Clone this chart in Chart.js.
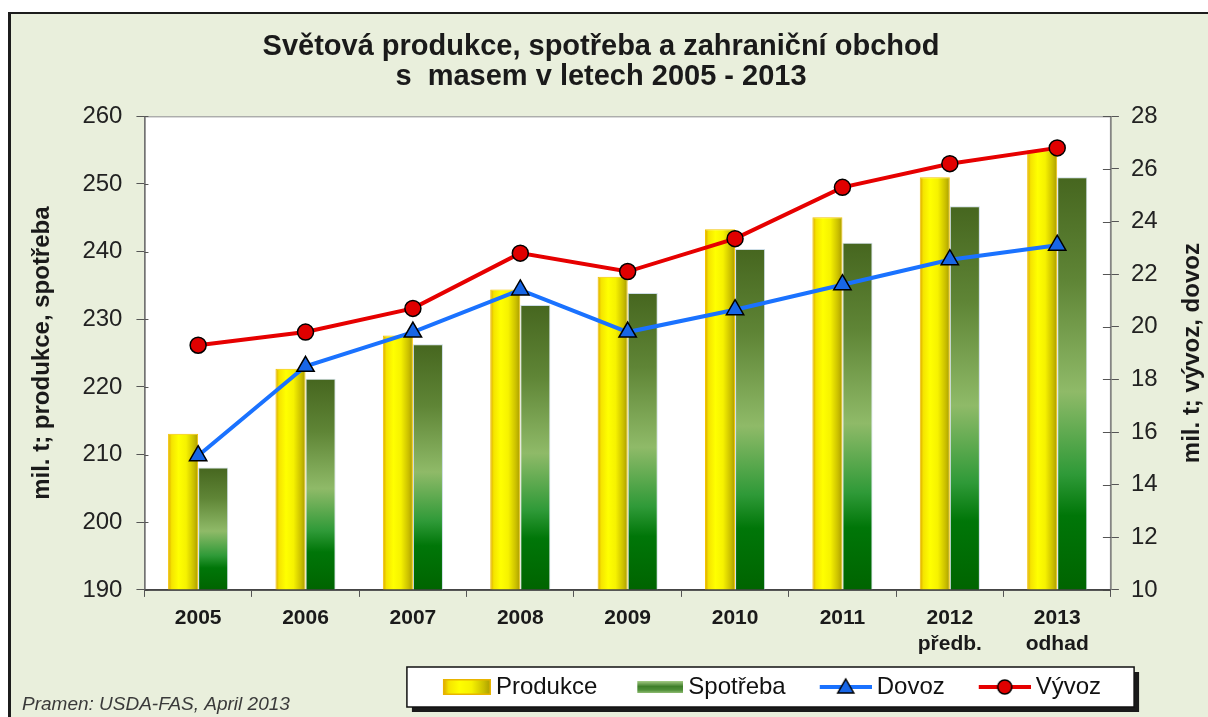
<!DOCTYPE html>
<html>
<head>
<meta charset="utf-8">
<script src="https://cdn.jsdelivr.net/npm/chart.js@4.4.1/dist/chart.umd.min.js"></script>
<style>
html, body { margin: 0; padding: 0; background: #fff; }
#wrap { width: 1208px; height: 717px; }
</style>
</head>
<body>
<div id="wrap"><canvas id="meatChart" width="1208" height="717"></canvas></div>
<script>
// data
var years = ['2005', '2006', '2007', '2008', '2009', '2010', '2011', ['2012', 'předb.'], ['2013', 'odhad']];
var produkce = [213.1, 222.7, 227.6, 234.4, 236.3, 243.3, 245.1, 251.0, 255.0];
var spotreba = [208.1, 221.2, 226.3, 232.1, 233.9, 240.4, 241.3, 246.7, 251.0];
var dovoz = [15.1, 18.5, 19.8, 21.4, 19.8, 20.65, 21.6, 22.55, 23.1];
var vyvoz = [19.3, 19.8, 20.7, 22.8, 22.1, 23.35, 25.3, 26.2, 26.8];
var leftAxis = { min: 190, max: 260, step: 10 };
var rightAxis = { min: 10, max: 28, step: 2 };

var titleLines = ['Světová produkce, spotřeba a zahraniční obchod', 's  masem v letech 2005 - 2013'];
var leftTitle = 'mil. t; produkce, spotřeba';
var rightTitle = 'mil. t; vývoz, dovoz';
var sourceNote = 'Pramen: USDA-FAS, April 2013';

var FONT = "'Liberation Sans', Arial, Helvetica, sans-serif";
var catPct = 0.56;

// legend icon geometry
var legW = 69, legImgW = legW + 14, legLead = legW + 7 - 48;

function barBox(c, side) {
    var chart = c.chart, xs = chart.scales.x, ys = chart.scales.y;
    if (!xs || !ys || c.dataIndex === undefined || !isFinite(xs.width)) return null;
    var barW = xs.width / years.length * catPct / 2;
    var cx = xs.getPixelForValue(c.dataIndex);
    var left = side === 0 ? cx - barW : cx;
    return { left: left, right: left + barW, top: ys.getPixelForValue(c.raw), bottom: ys.getPixelForValue(ys.min) };
}

function yellowStops(g) {
    g.addColorStop(0, '#d9a300');
    g.addColorStop(0.12, '#f5e400');
    g.addColorStop(0.35, '#ffff00');
    g.addColorStop(0.6, '#f6f200');
    g.addColorStop(0.85, '#cbc000');
    g.addColorStop(1, '#a99c00');
    return g;
}

function yellowFill(c) {
    var b = barBox(c, 0);
    if (!b) return '#f0e800';
    return yellowStops(c.chart.ctx.createLinearGradient(b.left, 0, b.right, 0));
}

function greenFill(c) {
    var b = barBox(c, 1);
    if (!b) return '#5f8f3a';
    var g = c.chart.ctx.createLinearGradient(0, b.top, 0, b.bottom);
    g.addColorStop(0, '#46661f');
    g.addColorStop(0.25, '#5f8536');
    g.addColorStop(0.52, '#8fba68');
    g.addColorStop(0.72, '#2f9a38');
    g.addColorStop(0.82, '#007608');
    g.addColorStop(1, '#006400');
    return g;
}

function makeIcon(kind) {
    var cv = document.createElement('canvas');
    cv.width = legImgW; cv.height = 22;
    var x = cv.getContext('2d');
    var cy = 11;
    if (kind === 'yellow') {
        var l = legImgW - 48;
        x.fillStyle = yellowStops(x.createLinearGradient(l, 0, legImgW, 0));
        x.fillRect(l, cy - 8, 48, 16);
        x.strokeStyle = '#e8b400'; x.lineWidth = 1.5;
        x.strokeRect(l + 0.75, cy - 7.25, 46.5, 14.5);
    } else if (kind === 'green') {
        var l2 = legImgW - 46;
        var g = x.createLinearGradient(0, cy - 6, 0, cy + 6);
        g.addColorStop(0, '#a6cc86'); g.addColorStop(0.45, '#3f7f2a'); g.addColorStop(0.75, '#4f8f38'); g.addColorStop(1, '#8fbc72');
        x.fillStyle = g;
        x.fillRect(l2, cy - 6, 46, 12);
    } else {
        var l3 = legImgW - 52;
        x.strokeStyle = kind === 'blue' ? '#1a72ff' : '#e60000';
        x.lineWidth = 4;
        x.beginPath(); x.moveTo(l3, cy); x.lineTo(legImgW, cy); x.stroke();
        var mx = l3 + 26;
        x.lineWidth = 1.5; x.strokeStyle = '#000';
        x.beginPath();
        if (kind === 'blue') {
            x.fillStyle = '#1866e6';
            x.moveTo(mx, cy - 8); x.lineTo(mx + 8, cy + 6); x.lineTo(mx - 8, cy + 6); x.closePath();
        } else {
            x.fillStyle = '#e00000';
            x.arc(mx, cy, 7, 0, Math.PI * 2);
        }
        x.fill(); x.stroke();
    }
    return cv;
}
var legendIcons = [makeIcon('yellow'), makeIcon('green'), makeIcon('blue'), makeIcon('red')];

var framePlugin = {
    id: 'frame',
    afterLayout: function(chart) {
        var lg = chart.legend;
        if (!lg || !lg.lineWidths) return;
        var pad = lg.options.labels.padding;
        var lineW = lg.lineWidths[0];
        var span = lineW - pad - legLead;
        var x0 = 772 - legLead - span / 2;
        var w = lg.right - lg.left;
        lg.left = x0 - pad;
        lg.right = lg.left + w;
        lg._frameL = x0 + legLead - 36;
        lg._frameR = x0 + lineW - pad + 33;
    },
    beforeDraw: function(chart) {
        var c = chart.ctx, a = chart.chartArea, lg = chart.legend;
        c.save();
        c.fillStyle = '#ffffff';
        c.fillRect(0, 0, chart.width, chart.height);
        c.fillStyle = '#e9efdc';
        c.fillRect(10, 14, chart.width - 10, chart.height - 14);
        c.fillStyle = '#1c1c1c';
        c.fillRect(8, 12, 3, chart.height - 12);
        c.fillRect(8, 12, chart.width - 8, 2);
        c.fillStyle = '#ffffff';
        c.fillRect(a.left, a.top, a.right - a.left, a.bottom - a.top);
        if (lg && lg._frameL !== undefined) {
            var top = lg.top + 2, h = 40;
            c.fillStyle = '#1a1a1a';
            c.fillRect(lg._frameL + 5, top + 5, lg._frameR - lg._frameL, h);
            c.fillStyle = '#ffffff';
            c.fillRect(lg._frameL, top, lg._frameR - lg._frameL, h);
            c.strokeStyle = '#111';
            c.lineWidth = 1.5;
            c.strokeRect(lg._frameL, top, lg._frameR - lg._frameL, h);
        }
        c.restore();
    },
    beforeDatasetsDraw: function(chart) {
        var c = chart.ctx, a = chart.chartArea;
        c.save();
        c.strokeStyle = '#8a8a8a';
        c.lineWidth = 1;
        c.strokeRect(a.left + 0.5, a.top + 0.5, a.right - a.left - 1, a.bottom - a.top);
        c.strokeStyle = '#555';
        c.beginPath();
        chart.scales.y.ticks.forEach(function(t) {
            var py = Math.round(chart.scales.y.getPixelForValue(t.value)) + 0.5;
            c.moveTo(a.left, py); c.lineTo(a.left + 4, py);
        });
        chart.scales.y1.ticks.forEach(function(t) {
            var py = Math.round(chart.scales.y1.getPixelForValue(t.value)) + 0.5;
            c.moveTo(a.right - 8, py); c.lineTo(a.right, py);
        });
        c.stroke();
        c.restore();
    },
    afterDatasetsDraw: function(chart) {
        var c = chart.ctx, a = chart.chartArea;
        c.save();
        c.strokeStyle = '#444';
        c.lineWidth = 1.5;
        c.beginPath(); c.moveTo(a.left, a.bottom); c.lineTo(a.right, a.bottom); c.stroke();
        c.restore();
    },
    afterDraw: function(chart) {
        var c = chart.ctx, a = chart.chartArea, s = chart.scales.y1;
        c.save();
        c.fillStyle = '#3a3a3a';
        c.font = 'italic 19px ' + FONT;
        c.textBaseline = 'middle';
        c.textAlign = 'left';
        c.fillText(sourceNote, 22, 705);
        // right axis title reads bottom-to-top like the left one
        c.translate(s.right + 4 - 13.2, (a.top + a.bottom) / 2);
        c.rotate(-Math.PI / 2);
        c.fillStyle = '#1a1a1a';
        c.font = 'bold 24px ' + FONT;
        c.textAlign = 'center';
        c.fillText(rightTitle, 0, 0);
        c.restore();
    }
};

var chart = new Chart(document.getElementById('meatChart').getContext('2d'), {
    type: 'bar',
    data: {
        labels: years,
        datasets: [{
            type: 'bar',
            label: 'Produkce',
            data: produkce,
            yAxisID: 'y',
            order: 2,
            backgroundColor: yellowFill,
            borderColor: '#f3c300',
            borderWidth: 1,
            categoryPercentage: catPct,
            barPercentage: 1.0
        }, {
            type: 'bar',
            label: 'Spotřeba',
            data: spotreba,
            yAxisID: 'y',
            order: 2,
            backgroundColor: greenFill,
            borderColor: '#cddde6',
            borderWidth: 1,
            categoryPercentage: catPct,
            barPercentage: 1.0
        }, {
            type: 'line',
            label: 'Dovoz',
            data: dovoz,
            yAxisID: 'y1',
            order: 1,
            borderColor: '#1a72ff',
            borderWidth: 4,
            tension: 0,
            pointStyle: 'triangle',
            pointRadius: 10,
            pointBackgroundColor: '#1866e6',
            pointBorderColor: '#000',
            pointBorderWidth: 1.5
        }, {
            type: 'line',
            label: 'Vývoz',
            data: vyvoz,
            yAxisID: 'y1',
            order: 0,
            borderColor: '#e60000',
            borderWidth: 4,
            tension: 0,
            pointStyle: 'circle',
            pointRadius: 8,
            pointBackgroundColor: '#e00000',
            pointBorderColor: '#000',
            pointBorderWidth: 1.5
        }]
    },
    options: {
        responsive: false,
        animation: false,
        events: [],
        devicePixelRatio: 1,
        layout: { padding: { top: 14, left: 0, right: 6, bottom: 8 } },
        plugins: {
            title: {
                display: true,
                text: titleLines,
                color: '#1a1a1a',
                font: { family: FONT, size: 29, weight: 'bold', lineHeight: 1.04 },
                padding: { top: 18, bottom: 24 }
            },
            legend: {
                display: true,
                position: 'bottom',
                align: 'start',
                labels: {
                    usePointStyle: true,
                    pointStyleWidth: legW,
                    padding: 10,
                    color: '#111',
                    font: { family: FONT, size: 24 },
                    sort: function(a, b) { return a.datasetIndex - b.datasetIndex; },
                    generateLabels: function(ch) {
                        var items = Chart.defaults.plugins.legend.labels.generateLabels(ch);
                        items.forEach(function(it) { it.pointStyle = legendIcons[it.datasetIndex]; it.lineWidth = 0; });
                        return items;
                    }
                }
            },
            tooltip: { enabled: false }
        },
        scales: {
            x: {
                offset: true,
                grid: { display: true, drawOnChartArea: false, offset: true, tickLength: 7, color: '#555' },
                border: { display: true, color: '#444', width: 1.5 },
                ticks: {
                    color: '#1a1a1a',
                    padding: 8,
                    maxRotation: 0,
                    font: { family: FONT, size: 21, weight: 'bold', lineHeight: 1.24 }
                }
            },
            y: {
                position: 'left',
                min: leftAxis.min,
                max: leftAxis.max,
                grid: { display: true, drawOnChartArea: false, tickLength: 8, color: '#555' },
                border: { display: true, color: '#555', width: 1.5 },
                ticks: {
                    stepSize: leftAxis.step,
                    padding: 14,
                    color: '#222',
                    font: { family: FONT, size: 24 }
                },
                title: {
                    display: true,
                    text: leftTitle,
                    color: '#1a1a1a',
                    font: { family: FONT, size: 24, weight: 'bold', lineHeight: 1.1 },
                    padding: { top: 29, bottom: 13 }
                }
            },
            y1: {
                position: 'right',
                min: rightAxis.min,
                max: rightAxis.max,
                grid: { display: true, drawOnChartArea: false, tickLength: 8, color: '#555' },
                border: { display: true, color: '#555', width: 1.5 },
                ticks: {
                    stepSize: rightAxis.step,
                    padding: 12,
                    color: '#222',
                    font: { family: FONT, size: 24 }
                },
                title: {
                    display: true,
                    text: rightTitle,
                    color: 'rgba(0,0,0,0)',
                    font: { family: FONT, size: 24, weight: 'bold', lineHeight: 1.1 },
                    padding: { top: 1, bottom: 5 }
                }
            }
        }
    },
    plugins: [framePlugin]
});
</script>
</body>
</html>
